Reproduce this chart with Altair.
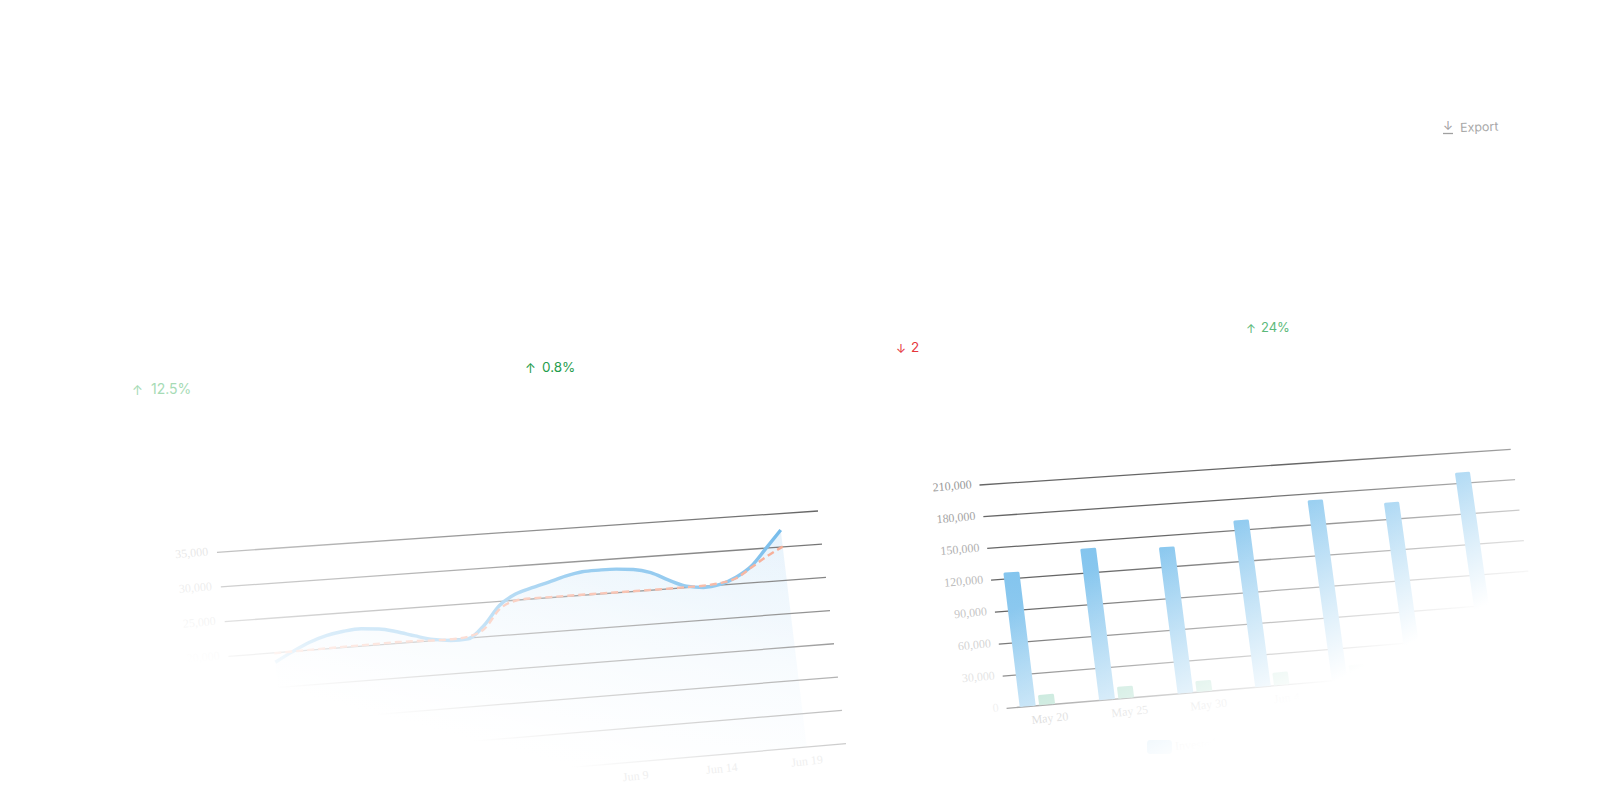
import numpy as np
import pandas as pd
import altair as alt

# ---------- data ----------
left_ticks = [35000, 30000, 25000, 20000, 15000, 10000]
left_grid = [35000, 30000, 25000, 20000, 15000, 10000, 5000, 0]
left_ticklabels = ["35,000", "30,000", "25,000", "20,000", "15,000", "10,000"]
left_dates = ["Jun 9", "Jun 14", "Jun 19"]
left_date_slots = [4, 5, 6]
days = list(range(31))
series_a = [18650, 19950, 21100, 21900, 22350, 22520, 22300, 21700, 20900, 20200, 19850,
            19900, 21700, 24400, 25900, 26650, 27300, 27980, 28450, 28520, 28480, 28250,
            27600, 26300, 25220, 24835, 25095, 26000, 27500, 30000, 32550]
series_b = [19950, 20000, 20040, 20080, 20120, 20150, 20180, 20200, 20150, 20050, 20020,
            20200, 21200, 23900, 24950, 25100, 25080, 25080, 25090, 25070, 25050, 25050,
            25040, 25040, 25070, 25100, 25300, 25850, 27300, 28800, 30050]

right_ticks = [210000, 180000, 150000, 120000, 90000, 60000, 30000, 0]
right_ticklabels = ["210,000", "180,000", "150,000", "120,000", "90,000", "60,000", "30,000", "0"]
bar_dates = ["May 20", "May 25", "May 30", "Jun 4", "Jun 9", "Jun 14", "Jun 19"]
bar_blue = [125000, 142200, 138000, 158500, 172700, 165300, 189600]
bar_green = [8700, 10200, 9500, 11300, 12200, 12500, 13000]
legend_names = ["Invested"]

W, H = 1604, 784


def homography(tl, tr, br, bl):
    src = [(0, 1), (1, 1), (1, 0), (0, 0)]
    dst = [tl, tr, br, bl]
    A, b = [], []
    for (u, v), (x, y) in zip(src, dst):
        x -= 8
        y -= 8
        A.append([u, v, 1, 0, 0, 0, -u * x, -v * x])
        b.append(x)
        A.append([0, 0, 0, u, v, 1, -u * y, -v * y])
        b.append(y)
    return np.linalg.solve(np.array(A, float), np.array(b, float))


def proj(h, u="datum.u", v="datum.v"):
    den = f"({h[6]:.10f}*{u}+{h[7]:.10f}*{v}+1)"
    return (f"({h[0]:.8f}*{u}+{h[1]:.8f}*{v}+{h[2]:.6f})/{den}",
            f"({h[3]:.8f}*{u}+{h[4]:.8f}*{v}+{h[5]:.6f})/{den}")


HL = homography((217, 552.3), (818, 511), (846, 743.7), (244, 795.7))
HR = homography((979.5, 485), (1510.7, 449.3), (1541.6, 663.3), (1006.6, 708.3))

X = alt.X("px:Q", scale=alt.Scale(domain=[0, W], range=[0, W]), axis=None)
Y = alt.Y("py:Q", scale=alt.Scale(domain=[0, H], range=[0, H]), axis=None)


def placed(df, h, u_expr, v_expr):
    px, py = proj(h)
    return alt.Chart(pd.DataFrame(df)).transform_calculate(u=u_expr).transform_calculate(
        v=v_expr).transform_calculate(px=px).transform_calculate(py=py)


def grid(ticks, top, h, color):
    px1, py1 = proj(h, "0", "datum.v")
    px2, py2 = proj(h, "1", "datum.v")
    return (alt.Chart(pd.DataFrame({"t": ticks}))
            .transform_calculate(v=f"datum.t/{top}")
            .transform_calculate(px=px1, py=py1, qx=px2, qy=py2)
            .mark_rule(color=color, strokeWidth=1.3)
            .encode(x=X, y=Y, x2="qx:Q", y2="qy:Q"))


def ylabels(ticks, labels, top, h, color, op_expr):
    return (placed({"t": ticks, "s": labels}, h, "-0.014", f"datum.t/{top}+0.006")
            .transform_calculate(op=op_expr)
            .mark_text(font="Liberation Serif", fontSize=12, align="right", baseline="middle",
                       angle=355, color=color)
            .encode(x=X, y=Y, text="s:N", opacity=alt.Opacity("op:Q", scale=None)))


def xlabels(labels, slots, h, u0, du, color):
    return (placed({"i": slots, "s": labels}, h, f"{u0}+{du}*datum.i", "-0.059")
            .mark_text(font="Liberation Serif", fontSize=12, align="center", baseline="middle",
                       angle=354, color=color)
            .encode(x=X, y=Y, text="s:N"))


# ---------- left chart ----------
U0, U1 = 0.073, 0.932
u_l = f"{U0}+({U1-U0})*datum.day/30"
v_l = "datum.val/35000"

area_days = days + [30, 0]
area_vals = series_a + [0, 0]
area = (placed({"day": area_days, "val": area_vals, "idx": list(range(len(area_days)))}, HL, u_l, v_l)
        .mark_line(interpolate="linear", strokeWidth=0,
                   fill=alt.Gradient(gradient="linear", x1=0, y1=0, x2=0, y2=1,
                                     stops=[alt.GradientStop(offset=0, color="#e4f1fb"),
                                            alt.GradientStop(offset=1, color="#fafdff")]))
        .encode(x=X, y=Y, order="idx:Q"))
line_a = (placed({"day": days, "val": series_a}, HL, u_l, v_l)
          .mark_line(color="#68b5e9", strokeWidth=3.4, interpolate="monotone")
          .encode(x=X, y=Y))
line_b = (placed({"day": days, "val": series_b}, HL, u_l, v_l)
          .mark_line(color="#f59f84", strokeWidth=2.4, strokeDash=[7, 4], interpolate="monotone")
          .encode(x=X, y=Y))

# ---------- right chart ----------
BU0, BDU = 0.038, 0.1437
BAR_HALF = 0.0117   # half width of the bar body in plot-fraction units
ROUND = 3
idx = list(range(7))


def bars(vals, u_offset, top_color, bottom_color):
    rows = {"i": [], "corner": [], "val": []}
    for i, val in zip(idx, vals):
        for c, (vv) in enumerate([0, val, val, 0]):
            rows["i"].append(i)
            rows["corner"].append(c)
            rows["val"].append(vv)
    g = alt.Gradient(gradient="linear", x1=0, y1=0, x2=0, y2=1,
                     stops=[alt.GradientStop(offset=0, color=top_color),
                            alt.GradientStop(offset=1, color=bottom_color)])
    u_expr = (f"{BU0 + u_offset}+{BDU}*datum.i+"
              f"((datum.corner==0||datum.corner==1)?-{BAR_HALF}:{BAR_HALF})")
    v_expr = "max(datum.val/210000-0.0014, 0.0014)"
    return (placed(rows, HR, u_expr, v_expr)
            .mark_line(interpolate="linear", fill=g, stroke=g, strokeWidth=ROUND, strokeJoin="round")
            .encode(x=X, y=Y, order="corner:Q", detail="i:N"))


blue_bars = bars(bar_blue, 0, "#84c5ee", "#9ed1f1")
green_bars = bars(bar_green, 0.035, "#a8dcc8", "#a8dcc8")

legend_swatch = (alt.Chart(pd.DataFrame({"s": legend_names}))
                 .mark_rect(color="#a8d6f3", cornerRadius=3)
                 .encode(x=alt.value(1139), x2=alt.value(1164), y=alt.value(732), y2=alt.value(746)))
legend_text = (alt.Chart(pd.DataFrame({"s": legend_names}))
               .mark_text(font="Liberation Serif", fontSize=12, align="left", baseline="middle",
                          angle=356, color="#bbbbbb")
               .encode(x=alt.value(1167), y=alt.value(738), text="s:N"))


# ---------- fade veils ----------
def veil(x0, y0, side, p0, p1, stops):
    x0 -= 8
    y0 -= 8
    g = alt.Gradient(
        gradient="linear",
        x1=(p0[0] - 8 - x0) / side, y1=(p0[1] - 8 - y0) / side,
        x2=(p1[0] - 8 - x0) / side, y2=(p1[1] - 8 - y0) / side,
        stops=[alt.GradientStop(offset=o, color=f"rgba(255,255,255,{1-a:.3f})") for o, a in stops])
    return (alt.Chart(pd.DataFrame({"k": [0]}))
            .mark_rect(fill=g)
            .encode(x=alt.value(x0), x2=alt.value(x0 + side), y=alt.value(y0), y2=alt.value(y0 + side)))


veil_left = veil(100, 60, 760, (207.2, 669), (288, 369),
                 [(0, 0), (0.096, 0.1), (0.167, 0.2), (0.289, 0.32), (0.386, 0.4),
                  (0.498, 0.5), (0.611, 0.65), (0.804, 0.8), (1, 1)])
veil_right = veil(860, 60, 760, (1480, 608), (1385.5, 421), [(0, 0), (1, 1)])


# ---------- floating labels ----------
def note(text, x, y, color, size, angle=0, font="Inter", weight=400):
    return (alt.Chart(pd.DataFrame({"s": [text]}))
            .mark_text(font=font, fontSize=size, fontWeight=weight, align="left", baseline="middle",
                       color=color, angle=angle)
            .encode(x=alt.value(x - 8), y=alt.value(y - 8), text="s:N"))


notes = [
    note("↑", 132, 391, "#a6dbb5", 13),
    note("12.5%", 151, 390, "#a6dbb5", 14),
    note("↑", 525, 369, "#1f9d4d", 13),
    note("0.8%", 542, 368, "#1f9d4d", 13.5),
    note("↓", 896, 349, "#e5383b", 12),
    note("2", 911, 348, "#e5383b", 13.5),
    note("↑", 1246, 329, "#5cb97a", 12),
    note("24%", 1261, 328, "#5cb97a", 13),
    note("↓", 1443, 126, "#a0a0a0", 12),
    note("Export", 1460, 128, "#a8a8a8", 12.5, angle=358),
]
icon_base = (alt.Chart(pd.DataFrame({"k": [0]}))
             .mark_rule(color="#a0a0a0", strokeWidth=1.3)
             .encode(x=alt.value(1435), x2=alt.value(1445), y=alt.value(125.5)))

chart = alt.layer(
    area,
    grid(left_grid, 35000, HL, "#666666"),
    line_a, line_b,
    ylabels(left_ticks, left_ticklabels, 35000, HL, "#c0c0c0", "1"),
    grid(right_ticks, 210000, HR, "#666666"),
    blue_bars, green_bars,
    ylabels(right_ticks, right_ticklabels, 210000, HR, "#888888", "0.2+0.66*datum.t/210000"),
    xlabels(bar_dates[:4], [0, 1, 2, 3], HR, 0.075, 0.145, "#bbbbbb"),
    legend_swatch, legend_text,
    veil_left, veil_right,
    xlabels(left_dates, left_date_slots, HL, 0.0537, 0.146, "#efefef"),
    *notes, icon_base,
).properties(width=W, height=H, padding=0, autosize=alt.AutoSizeParams(type="none")).configure_view(stroke=None)

chart.save("out.html", embed_options={"renderer": "svg", "actions": False})
